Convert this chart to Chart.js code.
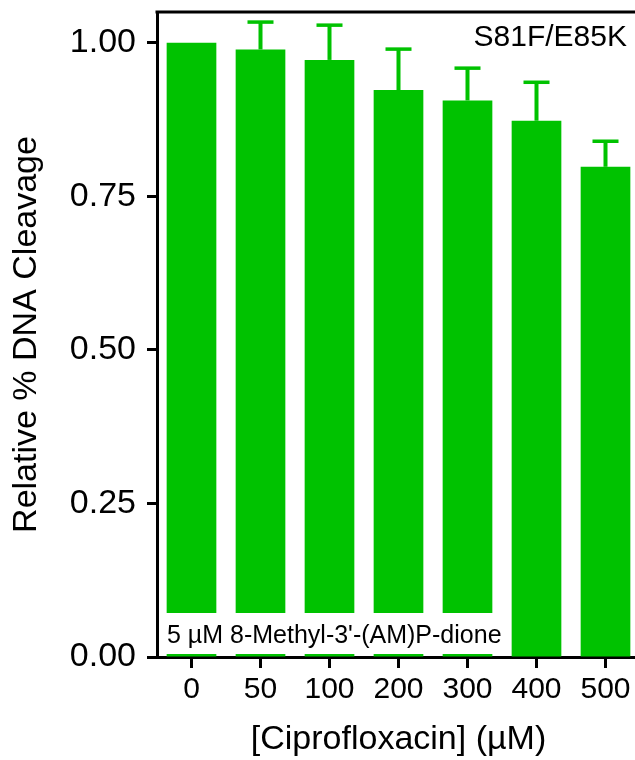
<!DOCTYPE html>
<html>
<head>
<meta charset="utf-8">
<script src="https://cdn.jsdelivr.net/npm/chart.js@4"></script>
<style>
  html, body { margin: 0; padding: 0; background: #fff; overflow: hidden; }
  #wrap { width: 635px; height: 760px; overflow: hidden; }
  canvas { display: block; }
</style>
</head>
<body>
<div id="wrap"><canvas id="cleavageChart" width="645" height="760"></canvas></div>
<script>
const concentrations = ['0', '50', '100', '200', '300', '400', '500'];
const relCleavage = [1.00, 0.989, 0.972, 0.923, 0.906, 0.873, 0.798];
const errUp = [0, 0.045, 0.057, 0.067, 0.053, 0.063, 0.042];
const yTicks = [0, 0.25, 0.5, 0.75, 1.0];

const GREEN = '#00c200';
const FONT = "Arial, 'Liberation Sans', sans-serif";

// error bars (upper only), label box, top frame line, panel label
const extras = {
  id: 'extras',
  afterDatasetsDraw(chart) {
    const ctx = chart.ctx;
    const meta = chart.getDatasetMeta(0);
    const y = chart.scales.y;
    ctx.save();
    ctx.fillStyle = GREEN;
    meta.data.forEach((bar, i) => {
      if (!errUp[i]) return;
      const yTop = y.getPixelForValue(relCleavage[i] + errUp[i]);
      ctx.fillRect(bar.x - 2, yTop, 4, bar.y - yTop);
      ctx.fillRect(bar.x - 13, yTop - 1.5, 26, 3.5);
    });

    // white label box over the first bars
    const a = chart.chartArea;
    ctx.fillStyle = '#fff';
    ctx.fillRect(a.left + 3, a.bottom - 44, 345, 41);
    ctx.fillStyle = '#000';
    ctx.font = '25px ' + FONT;
    ctx.textBaseline = 'alphabetic';
    ctx.textAlign = 'left';
    ctx.fillText("5 \u00b5M 8-Methyl-3'-(AM)P-dione", a.left + 10, a.bottom - 14);
    ctx.restore();
  },
  afterDraw(chart) {
    const ctx = chart.ctx;
    const a = chart.chartArea;
    ctx.save();
    // keep the right margin clean
    ctx.fillStyle = '#fff';
    ctx.fillRect(631, a.top + 2, chart.width - 631, a.bottom - a.top - 4);
    ctx.fillStyle = '#000';
    ctx.fillRect(a.left - 1.5, a.top - 1.5, chart.width - a.left + 1.5, 3);
    ctx.font = '30px ' + FONT;
    ctx.textAlign = 'right';
    ctx.textBaseline = 'alphabetic';
    ctx.fillText('S81F/E85K', 627, 46);
    ctx.restore();
  }
};

new Chart(document.getElementById('cleavageChart'), {
  type: 'bar',
  data: {
    labels: concentrations,
    datasets: [{
      data: relCleavage,
      backgroundColor: GREEN,
      borderWidth: 0,
      categoryPercentage: 1,
      barPercentage: 0.72
    }]
  },
  options: {
    responsive: false,
    animation: false,
    layout: { padding: { top: 12, right: 5, left: 0, bottom: 0 } },
    plugins: { legend: { display: false }, tooltip: { enabled: false } },
    scales: {
      x: {
        z: 1,
        offset: true,
        grid: { display: true, drawOnChartArea: false, offset: false, tickLength: 11, tickWidth: 3, tickColor: '#000' },
        border: { display: true, width: 3, color: '#000' },
        ticks: { color: '#000', font: { family: FONT, size: 30 }, padding: 4, maxRotation: 0 },
        title: { display: true, text: '[Ciprofloxacin] (\u00b5M)', color: '#000', font: { family: FONT, size: 34 }, padding: { top: 0, bottom: 0 } },
        afterFit(scale) { scale.height = 103; scale.paddingLeft = 0; scale.paddingRight = 0; }
      },
      y: {
        z: 1,
        min: 0,
        max: 1.05,
        grid: { display: true, drawOnChartArea: false, tickLength: 10, tickWidth: 3, tickColor: '#000' },
        border: { display: true, width: 3, color: '#000' },
        afterBuildTicks(scale) { scale.ticks = yTicks.map(v => ({ value: v })); },
        ticks: { color: '#000', font: { family: FONT, size: 34 }, padding: 11, callback: v => v.toFixed(2) },
        title: { display: true, text: 'Relative % DNA Cleavage', color: '#000', font: { family: FONT, size: 34 }, padding: { top: 6, bottom: 0 } },
        afterFit(scale) { scale.width = 157; scale.paddingTop = 0; scale.paddingBottom = 0; }
      }
    }
  },
  plugins: [extras]
});
</script>
</body>
</html>
